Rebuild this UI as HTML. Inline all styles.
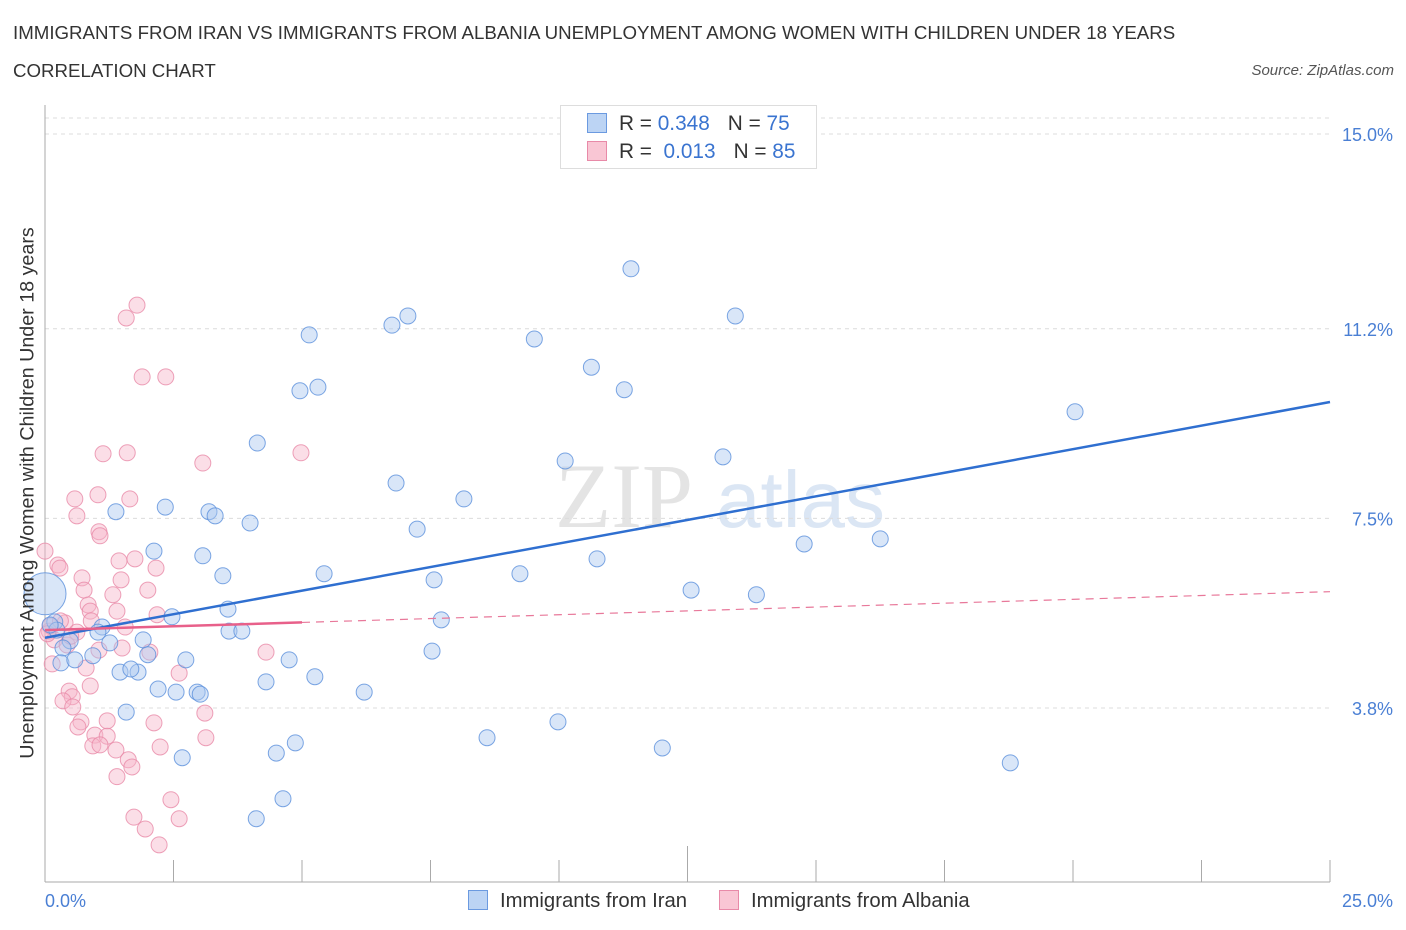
<!DOCTYPE html>
<html><head><meta charset="utf-8"><style>
body{margin:0;background:#fff;font-family:"Liberation Sans",sans-serif;}
#wrap{position:relative;width:1406px;height:930px;overflow:hidden;}
.t{position:absolute;white-space:nowrap;}
</style></head><body>
<div id="wrap">
<div class="t" style="left:13px;top:22px;font-size:18.7px;color:#333;">IMMIGRANTS FROM IRAN VS IMMIGRANTS FROM ALBANIA UNEMPLOYMENT AMONG WOMEN WITH CHILDREN UNDER 18 YEARS</div>
<div class="t" style="left:13px;top:60px;font-size:18.7px;color:#333;">CORRELATION CHART</div>
<div class="t" style="right:12px;top:62px;font-size:15px;color:#555;font-style:italic;">Source: ZipAtlas.com</div>
<svg id="svg" width="1406" height="930" style="position:absolute;left:0;top:0"></svg>
</div>
<script>
const iranX=[11.40,13.43,7.06,6.75,5.14,9.52,10.63,5.31,4.96,11.27,20.04,4.13,10.12,13.19,6.83,8.15,2.34,1.38,3.19,3.31,3.99,7.24,14.77,16.25,2.12,3.07,10.74,5.43,3.46,9.24,7.57,12.57,13.84,3.56,2.47,7.71,0.19,1.11,3.58,3.83,1.03,1.91,0.49,0.35,1.26,2.00,2.74,4.75,7.53,0.93,0.31,1.46,1.81,1.67,4.30,5.25,2.20,2.55,2.96,3.02,6.21,1.58,9.98,8.60,4.87,12.01,4.50,2.67,18.78,4.63,4.11,0.23,0.10,0.58];
const iranY=[12.37,11.45,11.45,11.27,11.08,11.00,10.45,10.06,9.99,10.01,9.58,8.97,8.62,8.70,8.19,7.88,7.72,7.63,7.63,7.55,7.41,7.29,7.00,7.10,6.86,6.77,6.71,6.42,6.38,6.42,6.30,6.10,6.01,5.73,5.58,5.52,5.48,5.38,5.30,5.30,5.28,5.13,5.11,4.97,5.07,4.84,4.74,4.74,4.91,4.82,4.68,4.50,4.50,4.56,4.31,4.41,4.17,4.11,4.11,4.07,4.11,3.72,3.53,3.22,3.12,3.02,2.92,2.83,2.73,2.03,1.64,5.32,5.42,4.74];
const albX=[1.79,1.58,1.89,2.35,1.13,1.60,3.07,4.98,1.03,0.58,1.65,0.62,1.05,1.07,0.00,0.25,0.29,1.44,2.16,1.75,0.72,0.76,1.48,1.32,2.00,0.84,0.88,1.40,2.18,0.90,1.56,0.39,0.08,0.62,0.18,0.43,1.05,0.14,1.50,2.04,2.61,4.30,0.80,0.88,0.47,0.53,0.35,0.54,3.11,0.70,0.64,1.21,2.12,0.97,1.21,0.93,3.13,1.07,1.38,2.24,1.62,1.69,1.40,2.45,1.73,2.61,1.95,2.22,0.10,0.30,0.05,0.50];
const albY=[11.66,11.41,10.26,10.26,8.76,8.78,8.58,8.78,7.96,7.88,7.88,7.55,7.24,7.16,6.86,6.59,6.53,6.67,6.53,6.71,6.34,6.10,6.30,6.01,6.10,5.81,5.69,5.69,5.62,5.50,5.38,5.46,5.30,5.28,5.13,5.03,4.93,4.66,4.97,4.89,4.48,4.89,4.58,4.23,4.13,4.02,3.94,3.82,3.70,3.53,3.43,3.55,3.51,3.27,3.25,3.06,3.22,3.08,2.98,3.04,2.79,2.65,2.46,2.01,1.67,1.64,1.44,1.13,5.40,5.50,5.25,5.20];
const yTicks=[15.0,11.2,7.5,3.8];
const yTickLabels=["15.0%","11.2%","7.5%","3.8%"];
const xTickVals=[0,2.5,5,7.5,10,12.5,15,17.5,20,22.5,25];
const iranFit=[5.17,9.77];
const albFit=[5.32,6.07];
const albSolidEnd=5;
const bigPoint=[0,6.03];

const X0=45,X1=1330,Y15=134,PPY=51.25;
const sx=v=>X0+(X1-X0)*v/25;
const sy=v=>Y15+(15-v)*PPY;
const svg=document.getElementById('svg');
const NS='http://www.w3.org/2000/svg';
function mk(tag,attrs,parent){const e=document.createElementNS(NS,tag);for(const k in attrs)e.setAttribute(k,attrs[k]);(parent||svg).appendChild(e);return e;}

let wm=mk('text',{x:555,y:527,'font-size':92,'font-family':'Liberation Serif, serif',fill:'#e4e4e4'});
wm.textContent='ZIP';


let wm2=mk('text',{x:716,y:527,'font-size':80,'font-family':'Liberation Sans, sans-serif',fill:'#dbe6f4'});
wm2.textContent='atlas';



yTicks.forEach((v,i)=>{
  let g=mk('line',{x1:X0,x2:X1,y1:sy(v),y2:sy(v),stroke:'#dcdcdc','stroke-dasharray':'4,4'});
  
  
  let t=mk('text',{x:1393,y:sy(v)+7,'text-anchor':'end','font-size':18,fill:'#4a7fd4','font-family':'Liberation Sans, sans-serif'});
  t.textContent=yTickLabels[i];
  
  
});
mk('line',{x1:X0,x2:X1,y1:118,y2:118,stroke:'#dcdcdc','stroke-dasharray':'4,4'});
let ax=mk('line',{x1:X0,x2:X0,y1:105,y2:882,stroke:'#aaa'});


let bx=mk('line',{x1:X0,x2:X1,y1:882,y2:882,stroke:'#aaa'});


xTickVals.forEach(v=>{
  let tk=mk('line',{x1:sx(v),x2:sx(v),y1:882,y2:(v===12.5?846:860),stroke:'#aaa'});
  
  
});

function drawPts(xs,ys,fill,stroke,name){
  xs.forEach((x,i)=>{
    let c=mk('circle',{cx:sx(x),cy:sy(ys[i]),r:8,fill:fill,'fill-opacity':0.45,stroke:stroke,'stroke-opacity':0.8,'stroke-width':1});
    
    
  });
}
drawPts(albX,albY,'#f7b6c9','#e88aa8','albania-point');
drawPts(iranX,iranY,'#aac8f0','#5b90dc','iran-point');
let big=mk('circle',{cx:sx(bigPoint[0]),cy:sy(bigPoint[1]),r:21,fill:'#aac8f0','fill-opacity':0.45,stroke:'#5b90dc','stroke-opacity':0.8});



let tl=mk('line',{x1:sx(0),y1:sy(iranFit[0]),x2:sx(25),y2:sy(iranFit[1]),stroke:'#2f6fd0','stroke-width':2.5});


const albAt=x=>albFit[0]+(albFit[1]-albFit[0])*x/25;
let pl=mk('line',{x1:sx(0),y1:sy(albAt(0)),x2:sx(albSolidEnd),y2:sy(albAt(albSolidEnd)),stroke:'#e8608a','stroke-width':2.5});


let pd=mk('line',{x1:sx(albSolidEnd),y1:sy(albAt(albSolidEnd)),x2:sx(25),y2:sy(albAt(25)),stroke:'#e8789a','stroke-width':1.2,'stroke-dasharray':'8,6'});


</script>
<div class="t" style="left:28px;top:493px;font-size:19.7px;color:#333;transform:translate(-50%,-50%) rotate(-90deg);">Unemployment Among Women with Children Under 18 years</div>
<div class="t" style="left:45px;top:891px;font-size:18px;color:#4a7fd4;">0.0%</div>
<div class="t" style="right:13px;top:891px;font-size:18px;color:#4a7fd4;">25.0%</div>
<div style="position:absolute;left:560px;top:105px;width:255px;height:62px;border:1px solid #ddd;background:#fff;font-size:20.8px;">
 <div style="position:absolute;left:26px;top:6px;white-space:nowrap;"><span style="display:inline-block;width:18px;height:18px;background:#bcd4f4;border:1px solid #6b9ae0;vertical-align:-3px;"></span><span style="color:#333;margin-left:12px;">R = </span><span style="color:#3a74d0;">0.348</span><span style="color:#333;margin-left:18px;">N = </span><span style="color:#3a74d0;">75</span></div>
 <div style="position:absolute;left:26px;top:34px;white-space:nowrap;"><span style="display:inline-block;width:18px;height:18px;background:#f9c6d4;border:1px solid #e88aa8;vertical-align:-3px;"></span><span style="color:#333;margin-left:12px;">R = </span><span style="color:#3a74d0;">&nbsp;0.013</span><span style="color:#333;margin-left:18px;">N = </span><span style="color:#3a74d0;">85</span></div>
</div>
<div style="position:absolute;left:468px;top:890px;font-size:20.3px;color:#333;white-space:nowrap;"><span style="display:inline-block;width:18px;height:18px;background:#bcd4f4;border:1px solid #6b9ae0;vertical-align:-3px;margin-right:12px;"></span>Immigrants from Iran</div>
<div style="position:absolute;left:719px;top:890px;font-size:20.3px;color:#333;white-space:nowrap;"><span style="display:inline-block;width:18px;height:18px;background:#f9c6d4;border:1px solid #e88aa8;vertical-align:-3px;margin-right:12px;"></span>Immigrants from Albania</div>
</body></html>
